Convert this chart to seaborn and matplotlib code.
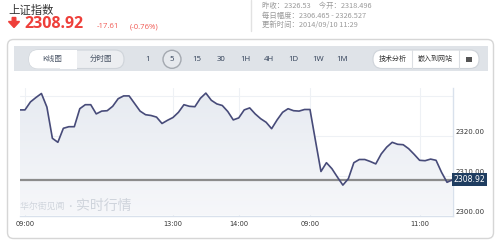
import numpy as np
import pandas as pd
import matplotlib
matplotlib.use("Agg")
import matplotlib.pyplot as plt
from matplotlib.patches import FancyBboxPatch, Rectangle, Circle, FancyArrow
from matplotlib.transforms import IdentityTransform
import seaborn as sns

# ---- data: Shanghai Composite, 5-minute bars over two sessions ----
index_values = [
    2326.4, 2326.4, 2328.4, 2329.5, 2330.5, 2327.1, 2319.3, 2318.3, 2321.8, 2322.2,
    2322.2, 2326.7, 2327.7, 2327.7, 2325.4, 2326.1, 2326.2, 2327.3, 2329.2, 2329.9,
    2329.9, 2328.0, 2326.1, 2325.2, 2325.0, 2324.6, 2323.0, 2323.8, 2324.5, 2325.8,
    2327.7, 2327.3, 2327.2, 2329.3, 2330.6, 2328.8, 2327.9, 2327.5, 2326.0, 2323.9,
    2324.4, 2326.4, 2326.9, 2325.4, 2324.2, 2323.3, 2321.7, 2323.9, 2325.8, 2326.7,
    2326.2, 2326.1, 2326.5, 2326.5, 2318.7, 2311.0, 2313.2, 2311.7, 2309.6, 2307.6,
    2309.2, 2313.2, 2314.0, 2314.0, 2313.5, 2312.9, 2315.4, 2317.1, 2318.3, 2317.8,
    2317.7, 2316.7, 2315.3, 2313.8, 2313.7, 2314.1, 2313.8, 2310.8, 2308.3, 2308.92,
]
tick_positions = [1, 28, 40, 53, 73]
tick_labels = ["09:00", "13:00", "14:00", "09:00", "11:00"]
ytick_values = [2300, 2310, 2320]
last_price = 2308.92
change = -17.61
change_pct = -0.76
prev_close = "2326.53"
today_open = "2318.496"
day_range = "2306.465 - 2326.527"
updated = "2014/09/10 11:29"
periods = ["1", "5", "15", "30", "1H", "4H", "1D", "1W", "1M"]

df = pd.DataFrame({"bar": np.arange(len(index_values)), "price": index_values})

sns.set_style("white")
plt.rcParams["font.family"] = ["Noto Sans CJK SC", "DejaVu Sans"]

W, H = 500, 244
fig = plt.figure(figsize=(W / 100, H / 100), dpi=100)
fig.patch.set_facecolor("white")
ident = IdentityTransform()


def fx(x):
    return x / W


def fy(y):
    return 1 - y / H


# ---- header ----
red = "#ee3f3a"
fig.text(fx(8), fy(10), "上证指数", fontsize=8.2, color="#333333", va="center", ha="left")
fig.patches.append(FancyArrow(14, H - 17.5, 0, -10, width=3.6, head_width=11, head_length=6,
                              length_includes_head=True, color=red, transform=ident, figure=fig))
fig.text(fx(24), fy(24), f"{last_price:.2f}", fontsize=11.5, fontweight="bold", color=red,
         va="center", ha="left", family=["Open Sans", "DejaVu Sans"])
fig.text(fx(97), fy(26.5), f"{change:.2f}", fontsize=5.6, color="#f05a54", va="center", ha="left",
         family=["Open Sans", "DejaVu Sans"])
fig.text(fx(130), fy(26.5), f"({change_pct:.2f}%)", fontsize=5.6, color="#f05a54", va="center",
         ha="left", family=["Open Sans", "DejaVu Sans"])

# info block on the right
fig.lines.append(plt.Line2D([fx(251), fx(251)], [fy(0), fy(31)], color="#e2e2e2", lw=1,
                            transform=fig.transFigure))
info_kw = dict(fontsize=5.3, color="#9a9a9a", va="center", ha="left")
fig.text(fx(262), fy(5.7), f"昨收：{prev_close}     今开：{today_open}", **info_kw)
fig.text(fx(262), fy(15.5), f"每日幅度：{day_range}", **info_kw)
fig.text(fx(262), fy(25.3), f"更新时间：{updated}", **info_kw)

# ---- chart frame ----
fig.patches.append(FancyBboxPatch((7.5, H - 238.5), 486, 199, boxstyle="round,pad=0,rounding_size=6",
                                  fc="white", ec="#d6d6d6", lw=1, transform=ident, figure=fig,
                                  zorder=0))
# toolbar band
fig.patches.append(Rectangle((13.5, H - 70.5), 474, 24.5, fc="#dfe3e8", ec="none",
                             transform=ident, figure=fig, zorder=1))
# K-line / tick chart switch
fig.patches.append(FancyBboxPatch((29, H - 68.5), 95, 18.5, boxstyle="round,pad=0,rounding_size=9",
                                  fc="#eceef1", ec="#cfd4da", lw=0.8, transform=ident, figure=fig,
                                  zorder=2))
fig.patches.append(FancyBboxPatch((29, H - 68.5), 48, 18.5, boxstyle="round,pad=0,rounding_size=9",
                                  fc="white", ec="none", transform=ident, figure=fig, zorder=3))
fig.patches.append(Rectangle((60, H - 68.5), 17, 18.5, fc="white", ec="none",
                             transform=ident, figure=fig, zorder=3))
fig.text(fx(52.5), fy(59.3), "K线图", fontsize=5.4, color="#4a5566", ha="center", va="center", zorder=4)
fig.text(fx(100.5), fy(59.3), "分时图", fontsize=5.4, color="#4a5566", ha="center", va="center", zorder=4)

period_x = [148, 172, 197, 221, 245, 269, 293, 318, 342]
fig.patches.append(Circle((172, H - 59.3), 9, fc="#e6e9ed", ec="#a4a9b0", lw=1,
                          transform=ident, figure=fig, zorder=2))
for px_, lab in zip(period_x, periods):
    fig.text(fx(px_), fy(59.3), lab, fontsize=5.6, color="#2e3d55", ha="center", va="center",
             zorder=4, family=["Open Sans", "DejaVu Sans"])

# tools switch
fig.patches.append(FancyBboxPatch((373, H - 68.5), 106, 18.5, boxstyle="round,pad=0,rounding_size=9",
                                  fc="white", ec="#cfd4da", lw=0.8, transform=ident, figure=fig,
                                  zorder=2))
for sx in (412, 459):
    fig.lines.append(plt.Line2D([fx(sx), fx(sx)], [fy(50), fy(68.5)], color="#dcdfe3", lw=0.8,
                                transform=fig.transFigure, zorder=3))
fig.text(fx(392.5), fy(59.3), "技术分析", fontsize=5.0, color="#333333", ha="center", va="center", zorder=4)
fig.text(fx(435.5), fy(59.3), "嵌入到网站", fontsize=5.0, color="#333333", ha="center", va="center", zorder=4)
fig.patches.append(Rectangle((466, H - 62), 6, 5.5, fc="#555555", ec="none",
                             transform=ident, figure=fig, zorder=4))

# ---- price plot ----
left, right, top, bottom = 19.5, 452.5, 88, 215.5
ax = fig.add_axes([fx(left), fy(bottom), fx(right - left), (bottom - top) / H])
ax.set_zorder(10)
ax.set_facecolor("white")
y_lo = 2300
y_hi = 2300 + (bottom - top) / 4.0

# faint grid
for t in tick_positions:
    ax.axvline(t, color="#eef1f5", lw=0.8, zorder=0)
for v in (2310, 2320, 2330):
    ax.axhline(v, color="#eef1f5", lw=0.8, zorder=0)

# gradient area under the line
area = ax.fill_between(df["bar"], df["price"], y_lo, facecolor="none", edgecolor="none")
grad = np.linspace(0, 1, 256).reshape(-1, 1)
cmap = matplotlib.colors.LinearSegmentedColormap.from_list("area", ["#f6f7fa", "#e7ebf1"])
img = ax.imshow(grad, extent=[0, len(index_values) - 1, y_lo, max(index_values)], origin="lower",
                aspect="auto", cmap=cmap, zorder=1)
img.set_clip_path(area.get_paths()[0], transform=ax.transData)

sns.lineplot(data=df, x="bar", y="price", ax=ax, color="#474b79", lw=1.2, zorder=3)
ax.axhline(last_price, color="#8c8c8c", lw=1.6, zorder=2)
ax.set_xlim(0, len(index_values) - 1)
ax.set_ylim(y_lo, y_hi)

for s in ("top", "left"):
    ax.spines[s].set_visible(False)
for s in ("right", "bottom"):
    ax.spines[s].set_color("#d9e1ec")
    ax.spines[s].set_linewidth(1)

ax.set_xlabel("")
ax.set_ylabel("")
ax.set_xticks([])
ax.set_yticks([])
for t, lab in zip(tick_positions, tick_labels):
    ax.text(t, -0.07, lab, transform=ax.get_xaxis_transform(), fontsize=4.8, color="#333333",
            ha="center", va="center", family=["DejaVu Sans"], clip_on=False)
for v in ytick_values:
    ax.text(1.006, v, f"{v:.2f}", transform=ax.get_yaxis_transform(), fontsize=5.0, color="#333333",
            ha="left", va="bottom", family=["DejaVu Sans"], clip_on=False)

# last price tag
ax.text(1.003, last_price, f"{last_price:.2f}", transform=ax.get_yaxis_transform(), fontsize=5.6,
        color="white", ha="left", va="center", family=["DejaVu Sans"], clip_on=False, zorder=6,
        bbox=dict(boxstyle="square,pad=0.25", fc="#1f3d60", ec="none"))

# watermark
ax.text(0.0, 0.07, "华尔街见闻 ·", transform=ax.transAxes, fontsize=6.4, color="#cfd4dc",
        ha="left", va="center", zorder=4)
ax.text(0.131, 0.075, "实时行情", transform=ax.transAxes, fontsize=10, color="#cfd4dc",
        ha="left", va="center", zorder=4)

fig.savefig("out.png", dpi=100, facecolor="white")
